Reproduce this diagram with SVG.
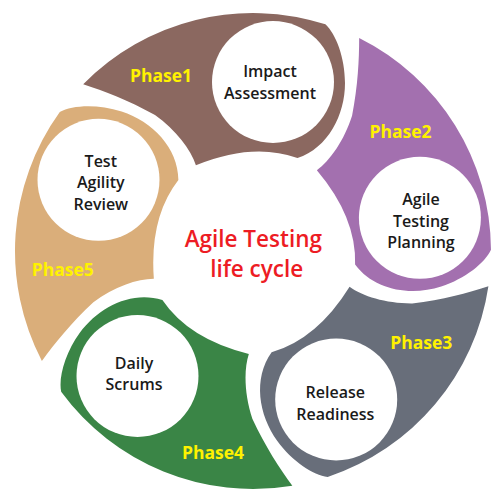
<svg xmlns="http://www.w3.org/2000/svg" xmlns:xlink="http://www.w3.org/1999/xlink" width="501" height="500" viewBox="0 0 501 500">
<style>
.node{fill:#ffffff}
.lbl{font-family:"Open Sans","Noto Sans",sans-serif;font-size:16px;font-weight:600;fill:#1a1a1a;text-anchor:middle}
.ph{font-family:"Open Sans","Noto Sans",sans-serif;font-size:17.5px;font-weight:bold;fill:#FFF200;text-anchor:middle}
.ctr{font-family:"Open Sans","Noto Sans",sans-serif;font-size:22.5px;font-weight:600;fill:#ED1C24;text-anchor:middle}
</style>
<defs>
<path id="seg" d="M83.2,84.2 A238,238 0 0 1 325.4,24.3 C336,34 345,58 345,83 C345,115 328,148 297.5,158.1 Q253,142 195.9,165.3 C191,150 176,130 155,115 C128,100 104,91 83.2,84.2 Z"/>
</defs>
<rect width="501" height="500" fill="#ffffff"/>
<g id="connectors"/>
<g id="phase1">
<use xlink:href="#seg" href="#seg" fill="#8B6860"/>
<circle class="node" cx="273" cy="82" r="61"/>
<text class="lbl" x="270" y="77">Impact</text>
<text class="lbl" x="270" y="98.5">Assessment</text>
<text class="ph" x="161" y="82">Phase1</text>
</g>
<g id="phase2">
<use xlink:href="#seg" href="#seg" fill="#A370AF" transform="rotate(72 253 251)"/>
<circle class="node" cx="419.9" cy="217.8" r="61"/>
<text class="lbl" x="421" y="205">Agile</text>
<text class="lbl" x="421" y="226.7">Testing</text>
<text class="lbl" x="421" y="248.3">Planning</text>
<text class="ph" x="400.5" y="138">Phase2</text>
</g>
<g id="phase3">
<use xlink:href="#seg" href="#seg" fill="#686E7A" transform="rotate(144 253 251)"/>
<circle class="node" cx="336.2" cy="399.5" r="61"/>
<text class="lbl" x="335.3" y="398">Release</text>
<text class="lbl" x="335.3" y="419.5">Readiness</text>
<text class="ph" x="421.2" y="349">Phase3</text>
</g>
<g id="phase4">
<use xlink:href="#seg" href="#seg" fill="#3A8546" transform="rotate(216 253 251)"/>
<circle class="node" cx="137.5" cy="376" r="61"/>
<text class="lbl" x="134" y="368.8">Daily</text>
<text class="lbl" x="134" y="390.3">Scrums</text>
<text class="ph" x="213" y="459.3">Phase4</text>
</g>
<g id="phase5">
<use xlink:href="#seg" href="#seg" fill="#DAAE7A" transform="rotate(288 253 251)"/>
<circle class="node" cx="98.5" cy="179.8" r="61"/>
<text class="lbl" x="100.8" y="166.7">Test</text>
<text class="lbl" x="100.8" y="188.3">Agility</text>
<text class="lbl" x="100.8" y="209.6">Review</text>
<text class="ph" x="62.8" y="275.7">Phase5</text>
</g>
<g id="center">
<text class="ctr" x="253.3" y="246.7">Agile Testing</text>
<text class="ctr" x="256.7" y="277.3">life cycle</text>
</g>
</svg>
